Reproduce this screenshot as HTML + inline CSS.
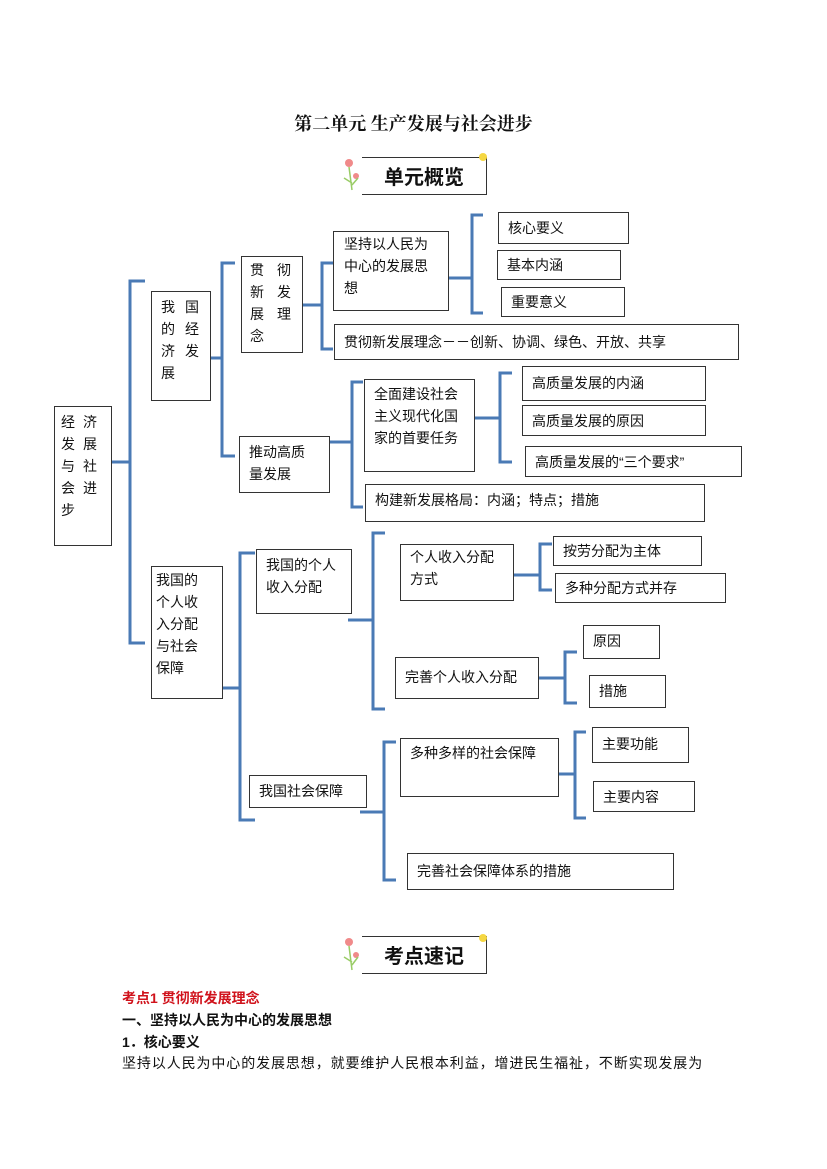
<!DOCTYPE html><html><head><meta charset="utf-8"><style>
body{margin:0;width:827px;height:1169px;background:#fff;position:relative;font-family:"Liberation Sans","Noto Sans CJK SC",sans-serif;color:#111;overflow:hidden}
.b{position:absolute;border:1px solid #333;box-sizing:border-box;font-size:14px;line-height:22px;padding:2px 9px;background:#fff;white-space:nowrap}
.t{position:absolute;font-size:14px;white-space:nowrap}
.badge{position:absolute;left:362px;width:124px;height:36px;border:1.5px solid #333;border-left:none;border-top-width:1px;font-weight:bold;font-size:20px;line-height:36px;text-align:center;font-family:"Noto Sans CJK SC",sans-serif}
</style></head><body>
<div class="t" style="left:0;width:827px;text-align:center;top:110px;font-size:18px;font-weight:bold;font-family:'Noto Serif CJK SC',serif">第二单元 生产发展与社会进步</div>

<div class="badge" style="top:157px">单元概览</div>
<div class="badge" style="top:936px">考点速记</div>
<svg style="position:absolute;left:0;top:0" width="827" height="1169">
<g fill="#f08a8a"><circle cx="349" cy="163" r="4"/><circle cx="356" cy="176" r="3"/><circle cx="349" cy="942" r="4"/><circle cx="356" cy="955" r="3"/></g>
<g fill="#f5d742"><circle cx="483" cy="157" r="4"/><circle cx="483" cy="938" r="4"/></g>
<g stroke="#9c6" stroke-width="1.5" fill="none"><path d="M352 190 L349 167 M352 185 L358 178 M352 183 L344 178"/><path d="M352 970 L349 946 M352 965 L358 957 M352 962 L344 957"/></g>
<g stroke="#4a7ab5" stroke-width="3" fill="none">
<path d="M112 462H130 M145 281H130V643H145"/>
<path d="M200 358H222 M235 263H222V456H235"/>
<path d="M303 305H322 M333 263H322V349H333"/>
<path d="M449 278H472 M483 215H472V313H483"/>
<path d="M330 442H352 M363 382H352V507H363"/>
<path d="M475 418H500 M512 373H500V462H512"/>
<path d="M223 688H240 M255 553H240V820H255"/>
<path d="M348 620H373 M385 533H373V709H385"/>
<path d="M514 575H540 M552 544H540V590H552"/>
<path d="M539 678H565 M577 652H565V703H577"/>
<path d="M360 812H384 M396 742H384V880H396"/>
<path d="M559 774H575 M586 732H575V818H586"/>
</g></svg>

<div class="b" style="left:54px;top:406px;width:58px;height:140px;padding:4px 6px;letter-spacing:8px">经济<br>发展<br>与社<br>会进<br>步</div>
<div class="b" style="left:151px;top:291px;width:60px;height:110px;padding:4px 9px;letter-spacing:10px">我国<br>的经<br>济发<br>展</div>
<div class="b" style="left:151px;top:566px;width:72px;height:133px;padding:2px 4px">我国的<br>个人收<br>入分配<br>与社会<br>保障</div>
<div class="b" style="left:241px;top:256px;width:62px;height:97px;padding:2px 8px;letter-spacing:13px">贯彻<br>新发<br>展理<br>念</div>
<div class="b" style="left:239px;top:436px;width:91px;height:57px;padding:4px 9px">推动高质<br>量发展</div>
<div class="b" style="left:333px;top:231px;width:116px;height:80px;padding:1px 10px">坚持以人民为<br>中心的发展思<br>想</div>
<div class="b" style="left:334px;top:324px;width:405px;height:36px;line-height:30px">贯彻新发展理念－－创新、协调、绿色、开放、共享</div>
<div class="b" style="left:498px;top:212px;width:131px;height:32px;line-height:26px">核心要义</div>
<div class="b" style="left:497px;top:250px;width:124px;height:30px;line-height:24px">基本内涵</div>
<div class="b" style="left:501px;top:287px;width:124px;height:30px;line-height:24px">重要意义</div>
<div class="b" style="left:364px;top:379px;width:111px;height:93px;padding:3px 9px">全面建设社会<br>主义现代化国<br>家的首要任务</div>
<div class="b" style="left:522px;top:366px;width:184px;height:35px;line-height:28px">高质量发展的内涵</div>
<div class="b" style="left:522px;top:405px;width:184px;height:31px;line-height:26px">高质量发展的原因</div>
<div class="b" style="left:525px;top:446px;width:217px;height:31px;line-height:26px">高质量发展的“三个要求”</div>
<div class="b" style="left:365px;top:484px;width:340px;height:38px;line-height:26px">构建新发展格局：内涵；特点；措施</div>
<div class="b" style="left:256px;top:549px;width:96px;height:65px;padding:4px 9px">我国的个人<br>收入分配</div>
<div class="b" style="left:400px;top:544px;width:114px;height:57px;padding:1px 9px">个人收入分配<br>方式</div>
<div class="b" style="left:553px;top:536px;width:149px;height:30px;line-height:24px">按劳分配为主体</div>
<div class="b" style="left:555px;top:573px;width:171px;height:30px;line-height:24px">多种分配方式并存</div>
<div class="b" style="left:395px;top:657px;width:144px;height:42px;line-height:34px">完善个人收入分配</div>
<div class="b" style="left:583px;top:625px;width:77px;height:34px;line-height:26px">原因</div>
<div class="b" style="left:589px;top:675px;width:77px;height:33px;line-height:26px">措施</div>
<div class="b" style="left:249px;top:775px;width:118px;height:33px;line-height:26px">我国社会保障</div>
<div class="b" style="left:400px;top:738px;width:159px;height:59px;padding:3px 9px">多种多样的社会保障</div>
<div class="b" style="left:592px;top:727px;width:97px;height:36px;line-height:28px">主要功能</div>
<div class="b" style="left:593px;top:781px;width:102px;height:31px;line-height:26px">主要内容</div>
<div class="b" style="left:407px;top:853px;width:267px;height:37px;line-height:30px">完善社会保障体系的措施</div>

<div class="t" style="left:122px;top:988px;color:#d0121b;font-weight:bold">考点1 贯彻新发展理念</div>
<div class="t" style="left:122px;top:1010px;font-weight:bold">一、坚持以人民为中心的发展思想</div>
<div class="t" style="left:122px;top:1032px;font-weight:bold">1．核心要义</div>
<div class="t" style="left:122px;top:1053px;letter-spacing:0.9px">坚持以人民为中心的发展思想，就要维护人民根本利益，增进民生福祉，不断实现发展为</div>
</body></html>
